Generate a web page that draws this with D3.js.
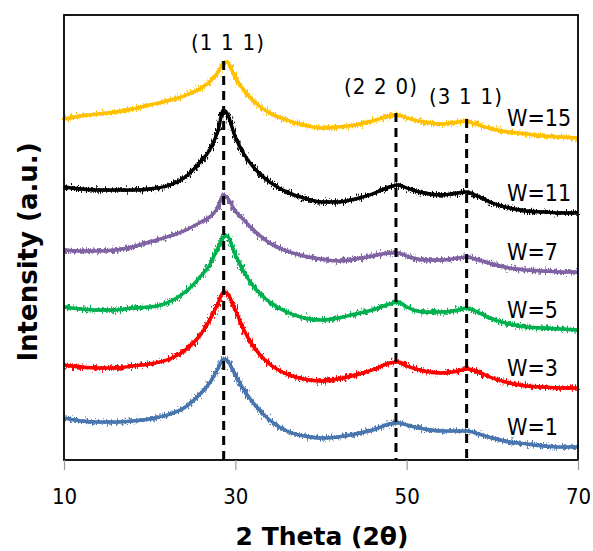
<!DOCTYPE html>
<html>
<head>
<meta charset="utf-8">
<script src="https://cdn.jsdelivr.net/npm/d3@7/dist/d3.min.js"></script>
<style>
  html, body { margin: 0; padding: 0; background: #fff; }
  svg { display: block; }
  .reg { font-family: "DejaVu Sans Condensed", "DejaVu Sans", sans-serif; font-stretch: condensed; }
  .bold { font-family: "DejaVu Sans", sans-serif; font-weight: bold; }
</style>
</head>
<body>
<svg id="chart" width="593" height="551"></svg>
<script>
// ---- data (2θ in degrees, intensity in arbitrary units, offset-stacked as in the figure) ----
const theta = [10,12,14,16,18,20,22,24,26,27,28,28.6,29,30,31,32,34,36,38,40,42,44,46,48,49,50,52,54,56,57,58,60,62,64,66,68,70];
const w15 = [340,343,345,347,350,354,358,363,371,377,387,396,397,381,369,359,346,339,334,331,332,334,338,343,344,341,337,335,337,338,335,330,327,325,323,322,321];
const w11 = [272,270,269,269,269,270,273,281,298,309,329,349,346,322,305,293,277,267,261,257,257,260,265,272,274,271,266,264,266,267,264,256,251,248,247,246,246];
const w7  = [209,208,208,209,212,217,222,228,237,242,252,264,262,248,239,230,216,208,203,200,198,200,203,206,206,203,199,199,201,202,200,195,191,189,188,187,187];
const w5  = [152,150,149,149,151,152,156,166,183,194,212,222,223,204,187,174,157,147,141,139,141,145,149,155,157,152,147,147,149,151,148,140,135,132,131,130,129];
const w3  = [94,92,91,91,93,95,99,108,125,139,156,167,166,149,129,114,95,85,80,78,80,84,89,96,97,93,88,86,88,90,88,81,76,73,72,71,71];
const w1  = [41,38,37,37,38,40,44,51,66,76,91,100,99,84,69,57,39,28,23,21,22,25,29,35,36,34,30,28,28,28,26,21,17,15,13,12,12];
const seriesNames = ["W=15","W=11","W=7","W=5","W=3","W=1"];
const seriesValues = [w15, w11, w7, w5, w3, w1];
const xTicks = [10, 30, 50, 70];
const reflLabels = ["(1 1 1)", "(2 2 0)", "(3 1 1)"];
const reflTheta = [28.64, 48.75, 57.0];
const reflTop = [398, 346, 340];

// ---- styles ----
const seriesColors = ["#FFC000", "#000000", "#8064A2", "#00B050", "#FF0000", "#4A76AE"];

const svg = d3.select("#chart");
const L = 64, R = 578, T = 15, B = 460;
const x = d3.scaleLinear().domain([10, 70]).range([L, R]);
const y = d3.scaleLinear().domain([-1, 444]).range([B, T]);

// noise-like texture filter for the traces
const defs = svg.append("defs");
const f = defs.append("filter").attr("id", "noise")
  .attr("filterUnits", "userSpaceOnUse")
  .attr("x", 0).attr("y", 0).attr("width", 593).attr("height", 551);
f.append("feTurbulence").attr("type", "fractalNoise")
  .attr("baseFrequency", "0.8 0.25").attr("numOctaves", 2).attr("seed", 5).attr("result", "t");
f.append("feDisplacementMap").attr("in", "SourceGraphic").attr("in2", "t")
  .attr("scale", 10).attr("xChannelSelector", "R").attr("yChannelSelector", "G");

const line = d3.line().x(d => x(d[0])).y(d => y(d[1])).curve(d3.curveMonotoneX);

seriesValues.forEach((vals, i) => {
  const pts = theta.map((t, j) => [t, vals[j]]);
  const g = svg.append("g");
  g.append("path").datum(pts)
    .attr("d", line)
    .attr("fill", "none")
    .attr("stroke", seriesColors[i])
    .attr("stroke-width", 3.4);
  g.append("path").datum(pts)
    .attr("d", line)
    .attr("fill", "none")
    .attr("stroke", seriesColors[i])
    .attr("stroke-width", 3.4)
    .attr("filter", "url(#noise)");
});

// dashed reflection lines
reflTheta.forEach((t, i) => {
  svg.append("line")
    .attr("x1", x(t)).attr("x2", x(t))
    .attr("y1", y(reflTop[i])).attr("y2", B)
    .attr("stroke", "#000").attr("stroke-width", 3)
    .attr("stroke-dasharray", "9,6");
});

// frame
svg.append("rect").attr("x", L).attr("y", T).attr("width", R - L).attr("height", B - T)
  .attr("fill", "none").attr("stroke", "#000").attr("stroke-width", 1.8);

// x axis
const ax = svg.append("g").attr("transform", `translate(0,${B})`)
  .call(d3.axisBottom(x).tickValues(xTicks).tickSize(10).tickPadding(18).tickFormat(d3.format("d")));
ax.select(".domain").remove();
ax.selectAll(".tick line").attr("stroke", "#999").attr("stroke-width", 1.2);
ax.selectAll(".tick text").attr("class", "reg").attr("font-size", 22).attr("fill", "#000");

// axis titles
svg.append("text").attr("class", "bold")
  .attr("x", 322).attr("y", 545).attr("text-anchor", "middle")
  .attr("font-size", 25).text("2 Theta (2\u03B8)");
svg.append("text").attr("class", "bold")
  .attr("transform", "translate(37,252) rotate(-90)").attr("text-anchor", "middle")
  .attr("font-size", 26).text("Intensity (a.u.)");

// reflection labels
const reflLabelPos = [[228, 50], [381, 94], [466, 104]];
reflLabels.forEach((s, i) => {
  svg.append("text").attr("class", "reg")
    .attr("x", reflLabelPos[i][0]).attr("y", reflLabelPos[i][1])
    .attr("text-anchor", "middle").attr("font-size", 22).attr("letter-spacing", 1.2)
    .text(s);
});

// series labels
seriesNames.forEach((s, i) => {
  const last = seriesValues[i][seriesValues[i].length - 1];
  svg.append("text").attr("class", "reg")
    .attr("x", 507).attr("y", y(last) - 12)
    .attr("font-size", 23).attr("fill", "#000")
    .text(s);
});
</script>
</body>
</html>
